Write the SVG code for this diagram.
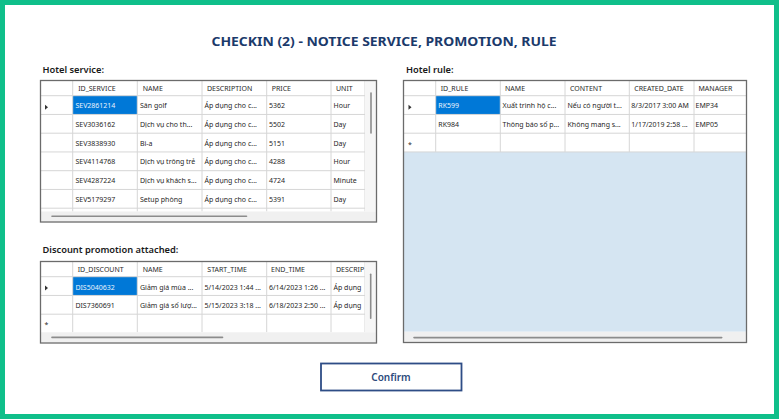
<svg xmlns="http://www.w3.org/2000/svg" width="779" height="420" viewBox="0 0 779 420">
<style>
.title{font-family:"Noto Sans","Liberation Sans",sans-serif;font-weight:700;font-size:13px;fill:#1b3a6b}
.lbl{font-family:"Noto Sans","Liberation Sans",sans-serif;font-weight:600;font-size:9.3px;fill:#1a1a1a}
.hdr{font-family:"Noto Sans","Liberation Sans",sans-serif;font-size:7px;fill:#2b2b2b}
.cell{font-family:"Noto Sans","Liberation Sans",sans-serif;font-size:7px;fill:#1f1f1f}
.seltxt{fill:#eaf3fc}
.grid{stroke:#d6d6d6;stroke-width:1;fill:none}
.border{fill:none;stroke:#6b6b6b;stroke-width:1.3}
.hsb{fill:#f0f0f0}
.vsb{fill:#f6f6f6}
.thumb{stroke:#8c8c8c;stroke-width:1.6;stroke-linecap:round}
.sel{fill:#0078d7}
.mark{fill:#333}
.btntxt{font-family:"Noto Sans","Liberation Sans",sans-serif;font-weight:600;font-size:10px;fill:#2c4a7c}
</style>
<defs>
<clipPath id="c1"><rect x="41" y="81" width="324" height="130.5"/></clipPath>
<clipPath id="c2"><rect x="41" y="262" width="324" height="70.3"/></clipPath>
<clipPath id="c3"><rect x="404" y="81" width="342.5" height="250.7"/></clipPath>
</defs>
<rect x="0" y="0" width="779" height="420" fill="#ffffff"/>
<rect id="frame" x="2.5" y="2.5" width="774" height="414" fill="none" stroke="#0fbf8a" stroke-width="5"/>
<text class="title" x="384" y="45.7" text-anchor="middle" textLength="345" lengthAdjust="spacingAndGlyphs">CHECKIN (2) - NOTICE SERVICE, PROMOTION, RULE</text>

<text class="lbl" x="42.5" y="73">Hotel service:</text>
<text class="lbl" x="42.5" y="253.3">Discount promotion attached:</text>
<text class="lbl" x="406" y="73">Hotel rule:</text>

<g id="hotel-service">
<rect x="40.5" y="80.5" width="336" height="141.5" fill="#ffffff"/>
<rect class="vsb" x="365" y="81" width="11" height="130.5"/>
<rect class="hsb" x="41" y="211.5" width="335" height="10"/>
<line class="thumb" x1="371" y1="93" x2="371" y2="133"/>
<line class="thumb" x1="52" y1="216.3" x2="246.5" y2="216.3"/>
<g clip-path="url(#c1)">
<rect class="sel" x="72.7" y="95.7" width="64.6" height="18.75"/>
<g class="grid">
<path d="M41 95.7H365M41 114.45H365M41 133.2H365M41 151.95H365M41 170.7H365M41 189.45H365M41 208.2H365"/>
<path d="M72.7 81V211.5M137.3 81V211.5M202 81V211.5M266.7 81V211.5M331 81V211.5M365 81V211.5"/>
</g>
<polygon class="mark" points="45,104.8 48,107.3 45,109.8"/>
<text class="hdr" y="91.4"><tspan x="78.2">ID_SERVICE</tspan><tspan x="142.8">NAME</tspan><tspan x="207">DESCRIPTION</tspan><tspan x="271.7">PRICE</tspan><tspan x="336">UNIT</tspan></text>
<text class="cell" y="108.1"><tspan x="75.4" class="seltxt">SEV2861214</tspan><tspan x="140">Sân golf</tspan><tspan x="204.5">Áp dụng cho c...</tspan><tspan x="269">5362</tspan><tspan x="333.5">Hour</tspan></text>
<text class="cell" y="126.85"><tspan x="75.4">SEV3036162</tspan><tspan x="140">Dịch vụ cho th...</tspan><tspan x="204.5">Áp dụng cho c...</tspan><tspan x="269">5502</tspan><tspan x="333.5">Day</tspan></text>
<text class="cell" y="145.6"><tspan x="75.4">SEV3838930</tspan><tspan x="140">Bi-a</tspan><tspan x="204.5">Áp dụng cho c...</tspan><tspan x="269">5151</tspan><tspan x="333.5">Day</tspan></text>
<text class="cell" y="164.35"><tspan x="75.4">SEV4114768</tspan><tspan x="140">Dịch vụ trông trẻ</tspan><tspan x="204.5">Áp dụng cho c...</tspan><tspan x="269">4288</tspan><tspan x="333.5">Hour</tspan></text>
<text class="cell" y="183.1"><tspan x="75.4">SEV4287224</tspan><tspan x="140">Dịch vụ khách s...</tspan><tspan x="204.5">Áp dụng cho c...</tspan><tspan x="269">4724</tspan><tspan x="333.5">Minute</tspan></text>
<text class="cell" y="201.85"><tspan x="75.4">SEV5179297</tspan><tspan x="140">Setup phòng</tspan><tspan x="204.5">Áp dụng cho c...</tspan><tspan x="269">5391</tspan><tspan x="333.5">Day</tspan></text>
</g>
<rect class="border" x="40.5" y="80.5" width="336" height="141.5"/>
</g>

<g id="discount-promotion">
<rect x="40.5" y="261.5" width="336" height="81.5" fill="#ffffff"/>
<rect class="vsb" x="365" y="262" width="11" height="70.3"/>
<rect class="hsb" x="41" y="332.3" width="335" height="10.2"/>
<line class="thumb" x1="370.7" y1="274.3" x2="370.7" y2="318.3"/>
<line class="thumb" x1="52" y1="337.4" x2="222.5" y2="337.4"/>
<g clip-path="url(#c2)">
<rect class="sel" x="72.7" y="276.7" width="64.6" height="18.75"/>
<g class="grid">
<path d="M41 276.7H365M41 295.45H365M41 314.2H365"/>
<path d="M72.7 262V332.3M137.3 262V332.3M202 262V332.3M266.7 262V332.3M331 262V332.3M365 262V332.3"/>
</g>
<polygon class="mark" points="45,285.6 48,288.1 45,290.6"/>
<text class="cell" x="44.5" y="327">*</text>
<text class="hdr" y="272.4"><tspan x="77.7">ID_DISCOUNT</tspan><tspan x="142.7">NAME</tspan><tspan x="207.3">START_TIME</tspan><tspan x="271">END_TIME</tspan><tspan x="336">DESCRIP</tspan></text>
<text class="cell" y="289.5"><tspan x="75.4" class="seltxt">DIS5040632</tspan><tspan x="140">Giảm giá mùa ...</tspan><tspan x="204.5">5/14/2023 1:44 ...</tspan><tspan x="269">6/14/2023 1:26 ...</tspan><tspan x="333.5">Áp dụng</tspan></text>
<text class="cell" y="308.25"><tspan x="75.4">DIS7360691</tspan><tspan x="140">Giảm giá số lượ...</tspan><tspan x="204.5">5/15/2023 3:18 ...</tspan><tspan x="269">6/18/2023 2:50 ...</tspan><tspan x="333.5">Áp dụng</tspan></text>
</g>
<rect class="border" x="40.5" y="261.5" width="336" height="81.5"/>
</g>

<g id="hotel-rule">
<rect x="403.5" y="80.5" width="343" height="262" fill="#ffffff"/>
<rect x="404" y="151.95" width="342.5" height="179.8" fill="#d5e5f2"/>
<rect class="hsb" x="404" y="331.7" width="342.5" height="10.5"/>
<line class="thumb" x1="414" y1="337.6" x2="721.7" y2="337.6"/>
<g clip-path="url(#c3)">
<rect class="sel" x="435.7" y="95.7" width="64.6" height="18.75"/>
<g class="grid">
<path d="M404 95.7H746.5M404 114.45H746.5M404 133.2H746.5M404 151.95H746.5"/>
<path d="M435.7 81V151.95M500.3 81V151.95M565 81V151.95M629.3 81V151.95M694 81V151.95"/>
</g>
<polygon class="mark" points="408.5,104.8 411.5,107.3 408.5,109.8"/>
<text class="cell" x="408" y="146.8">*</text>
<text class="hdr" y="91.4"><tspan x="440.7">ID_RULE</tspan><tspan x="505">NAME</tspan><tspan x="570">CONTENT</tspan><tspan x="634.3">CREATED_DATE</tspan><tspan x="698.5">MANAGER</tspan></text>
<text class="cell" y="108.1"><tspan x="438.3" class="seltxt">RK599</tspan><tspan x="502.6">Xuất trình hộ c...</tspan><tspan x="567.5">Nếu có người t...</tspan><tspan x="631.3">8/3/2017 3:00 AM</tspan><tspan x="695.5">EMP34</tspan></text>
<text class="cell" y="126.85"><tspan x="438.3">RK984</tspan><tspan x="502.6">Thông báo số p...</tspan><tspan x="567.5">Không mang s...</tspan><tspan x="631.3">1/17/2019 2:58 ...</tspan><tspan x="695.5">EMP05</tspan></text>
</g>
<rect class="border" x="403.5" y="80.5" width="343" height="262"/>
</g>

<g id="confirm-button">
<rect x="321" y="363.5" width="140.5" height="27" fill="#ffffff" stroke="#2e4d86" stroke-width="1.8"/>
<text class="btntxt" x="391" y="380.5" text-anchor="middle">Confirm</text>
</g>
</svg>
